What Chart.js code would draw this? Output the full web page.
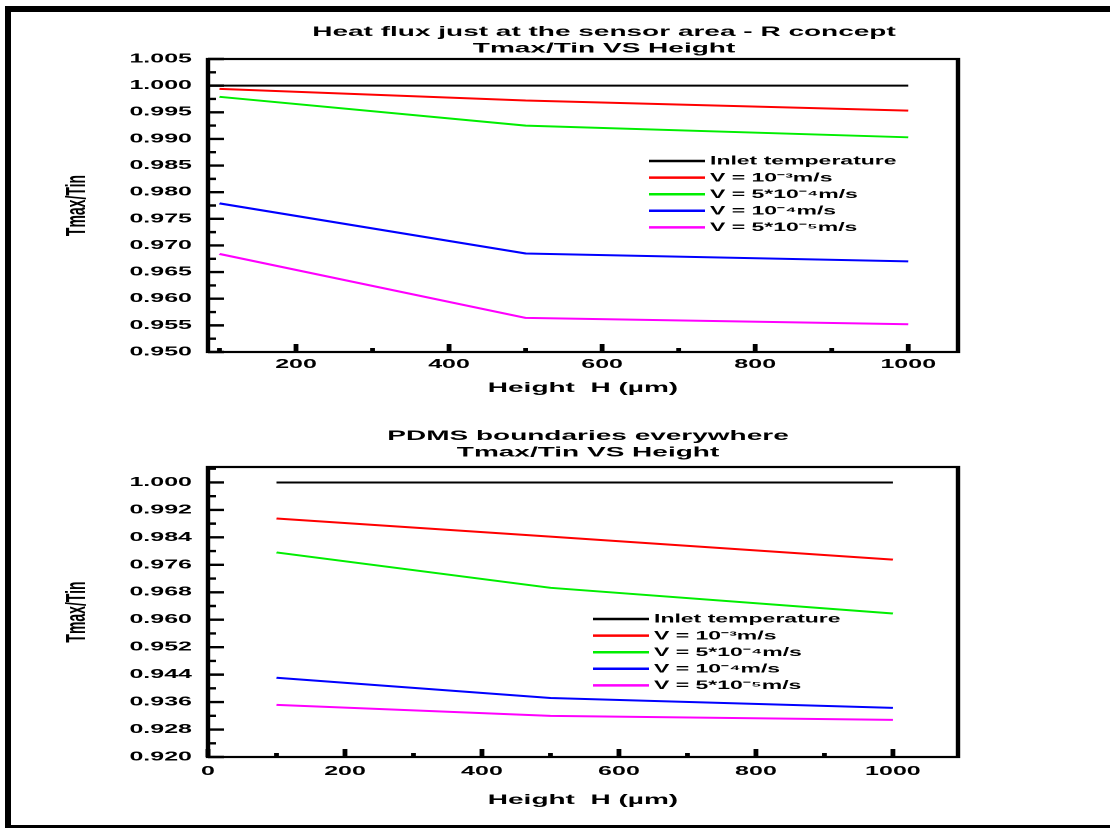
<!DOCTYPE html>
<html>
<head>
<meta charset="utf-8">
<script src="https://cdn.jsdelivr.net/npm/chart.js@4/dist/chart.umd.min.js"></script>
<style>
  html, body { margin: 0; padding: 0; background: #fff; overflow: hidden; }
  body { width: 1110px; height: 828px; position: relative; }
  /* the original picture is stretched 2x horizontally, so draw at half width and stretch */
  #stage { position: absolute; left: 0; top: 0; width: 555px; height: 828px; transform: scaleX(2); transform-origin: 0 0; }
  #stage canvas { display: block; }
  #frame { position: absolute; left: 5px; top: 6px; width: 1200px; height: 825px; border: 6px solid #000; box-sizing: border-box; }
</style>
</head>
<body>
<div id="stage">
  <canvas id="sensor" width="555" height="414" style="width:555px;height:414px"></canvas>
  <canvas id="pdms" width="555" height="414" style="width:555px;height:414px"></canvas>
</div>
<div id="frame"></div>
<script>
// ---- data ----
const heights = [100, 500, 1000];                 // channel height H (µm)
const seriesNames = ['Inlet temperature', 'V = 10\u207B\u00B3m/s', 'V = 5*10\u207B\u2074m/s', 'V = 10\u207B\u2074m/s', 'V = 5*10\u207B\u2075m/s'];

// top plot: heat flux just at the sensor area
const sensorInletH = [85, 1000];
const sensorInlet  = [1.000, 1.000];
const sensorV1e3   = [0.9994, 0.9972, 0.9953];
const sensorV5e4   = [0.9979, 0.9925, 0.9903];
const sensorV1e4   = [0.9779, 0.9685, 0.9670];
const sensorV5e5   = [0.9684, 0.9564, 0.9552];
const sensorXTicks = [200, 400, 600, 800, 1000];
const sensorYTicks = [0.950, 0.955, 0.960, 0.965, 0.970, 0.975, 0.980, 0.985, 0.990, 0.995, 1.000, 1.005];

// bottom plot: PDMS boundaries everywhere
const pdmsInletH = [100, 1000];
const pdmsInlet  = [1.000, 1.000];
const pdmsV1e3   = [0.9895, 0.9842, 0.9775];
const pdmsV5e4   = [0.9796, 0.9693, 0.9618];
const pdmsV1e4   = [0.9431, 0.9372, 0.9343];
const pdmsV5e5   = [0.9352, 0.9320, 0.9308];
const pdmsXTicks = [0, 200, 400, 600, 800, 1000];
const pdmsYTicks = [0.920, 0.928, 0.936, 0.944, 0.952, 0.960, 0.968, 0.976, 0.984, 0.992, 1.000];

const xTitle = 'Height  H (\u00B5m)';
const yTitle = 'Tmax/Tin';

// ---- styling ----
const colors = ['#000000', '#ff0000', '#00ee00', '#0000ff', '#ff00ff'];
const family = '"Liberation Sans", Arial, Helvetica, sans-serif';
Chart.defaults.font.family = family;
Chart.defaults.color = '#000';

function pts(xs, ys) {
    return ys.map((v, i) => ({x: xs[i], y: v}));
}

function minorValues(major, min, max) {
    const out = [];
    const step = major[1] - major[0];
    for (let i = -1; i < major.length; i++) {
        const v = (i < 0 ? major[0] - step : major[i]) + step / 2;
        if (v >= min - 1e-9 && v <= max + 1e-9) out.push(v);
    }
    return out;
}

// Origin-like box, inward ticks, titles and legend
const originFrame = {
    id: 'originFrame',
    afterDraw(chart, args, opts) {
        const {ctx, chartArea: a} = chart;
        const x = chart.scales.x, y = chart.scales.y;
        ctx.save();
        ctx.strokeStyle = '#000';
        ctx.lineWidth = 2.2;
        ctx.strokeRect(a.left, a.top, a.right - a.left, a.bottom - a.top);

        ctx.lineWidth = 2.4;
        ctx.beginPath();
        opts.yTicks.forEach(v => { const p = y.getPixelForValue(v); ctx.moveTo(a.left, p); ctx.lineTo(a.left + 8, p); });
        minorValues(opts.yTicks, y.min, y.max).forEach(v => { const p = y.getPixelForValue(v); ctx.moveTo(a.left, p); ctx.lineTo(a.left + 4, p); });
        opts.xTicks.forEach(v => { const p = x.getPixelForValue(v); ctx.moveTo(p, a.bottom); ctx.lineTo(p, a.bottom - 8); });
        minorValues(opts.xTicks, x.min, x.max).forEach(v => { const p = x.getPixelForValue(v); ctx.moveTo(p, a.bottom); ctx.lineTo(p, a.bottom - 4); });
        ctx.stroke();

        // chart title
        ctx.fillStyle = '#000';
        ctx.textAlign = 'center';
        ctx.textBaseline = 'middle';
        ctx.font = 'bold 14px ' + family;
        opts.title.forEach((t, i) => ctx.fillText(t, opts.titleX, opts.titleY + i * 16.5));

        // legend
        ctx.textAlign = 'left';
        ctx.font = 'bold 11.5px ' + family;
        ctx.lineWidth = 2.5;
        chart.data.datasets.forEach((ds, i) => {
            const ry = opts.legendY + i * 16.6;
            ctx.strokeStyle = ds.borderColor;
            ctx.beginPath();
            ctx.moveTo(opts.legendX, ry);
            ctx.lineTo(opts.legendX + 28, ry);
            ctx.stroke();
            ctx.fillText(ds.label, opts.legendX + 30.5, ry + 0.5);
        });
        ctx.restore();
    }
};

function makeChart(id, setup) {
    const datasets = setup.series.map((s, i) => ({
        label: seriesNames[i],
        data: s,
        borderColor: colors[i],
        backgroundColor: colors[i],
        borderWidth: 2,
        pointRadius: 0,
        tension: 0,
        fill: false
    }));
    return new Chart(document.getElementById(id), {
        type: 'line',
        data: {datasets: datasets},
        plugins: [originFrame],
        options: {
            responsive: false,
            animation: false,
            devicePixelRatio: 2,
            layout: {padding: {left: 30, right: 76, top: setup.top, bottom: 0}},
            plugins: {
                legend: {display: false},
                tooltip: {enabled: false},
                originFrame: {
                    title: setup.title, titleX: setup.titleX, titleY: setup.titleY,
                    legendX: setup.legendX, legendY: setup.legendY,
                    xTicks: setup.xTicks, yTicks: setup.yTicks
                }
            },
            scales: {
                x: {
                    type: 'linear', min: setup.xMin, max: setup.xMax,
                    grid: {display: false, drawTicks: false},
                    border: {display: false},
                    afterBuildTicks: s => { s.ticks = setup.xTicks.map(v => ({value: v})); },
                    afterFit: s => { s.height = setup.xHeight; },
                    ticks: {padding: setup.xPad, autoSkip: false, maxRotation: 0, color: '#000',
                            font: {size: 12.5, weight: 'bold'}, callback: v => String(v)},
                    title: {display: true, text: xTitle, color: '#000',
                            font: {size: 14, weight: 'bold'}, padding: {top: 0, bottom: setup.xTitlePad}}
                },
                y: {
                    type: 'linear', min: setup.yMin, max: setup.yMax,
                    grid: {display: false, drawTicks: false},
                    border: {display: false},
                    afterBuildTicks: s => { s.ticks = setup.yTicks.map(v => ({value: v})); },
                    afterFit: s => { s.width = 74; },
                    ticks: {padding: 8, autoSkip: false, color: '#000',
                            font: {size: 12.5, weight: 'bold'}, callback: v => v.toFixed(3)},
                    title: {display: true, text: yTitle, color: '#000',
                            font: {size: 14, weight: 'bold'}, padding: {top: 0, bottom: 0}}
                }
            }
        }
    });
}

makeChart('sensor', {
    series: [pts(sensorInletH, sensorInlet), pts(heights, sensorV1e3), pts(heights, sensorV5e4),
             pts(heights, sensorV1e4), pts(heights, sensorV5e5)],
    title: ['Heat flux just at the sensor area - R concept', 'Tmax/Tin VS Height'],
    titleX: 302, titleY: 32,
    legendX: 324.5, legendY: 161,
    xTicks: sensorXTicks, yTicks: sensorYTicks,
    xMin: 85, xMax: 1065, yMin: 0.950, yMax: 1.005,
    top: 59, xHeight: 62, xPad: 5, xTitlePad: 17.5
});

makeChart('pdms', {
    series: [pts(pdmsInletH, pdmsInlet), pts(heights, pdmsV1e3), pts(heights, pdmsV5e4),
             pts(heights, pdmsV1e4), pts(heights, pdmsV5e5)],
    title: ['PDMS boundaries everywhere', 'Tmax/Tin VS Height'],
    titleX: 294, titleY: 22,
    legendX: 296.5, legendY: 205,
    xTicks: pdmsXTicks, yTicks: pdmsYTicks,
    xMin: 0, xMax: 1095, yMin: 0.920, yMax: 1.0045,
    top: 53, xHeight: 71, xPad: 7, xTitlePad: 19.5
});
</script>
</body>
</html>
